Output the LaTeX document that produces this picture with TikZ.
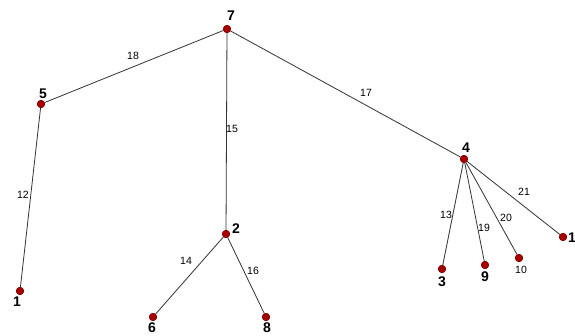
\documentclass[tikz,border=0pt]{standalone}
\usepackage{fontspec}
\setmainfont{Liberation Sans}
\begin{document}
\begin{tikzpicture}[x=1pt,y=-1pt,
  vtx/.style={circle,fill=red!65!black,draw=red!50!black,inner sep=0pt,minimum size=7.5pt},
  edge/.style={draw=black!80,line width=0.8pt},
  nlab/.style={font=\fontsize{14}{14}\selectfont\bfseries,inner sep=1pt},
  elab/.style={font=\fontsize{10.5}{10.5}\selectfont,inner sep=0pt}]
\useasboundingbox (0,0) rectangle (575,336);
\node[vtx] (n7) at (227,29) {};
\node[vtx] (n5) at (41,104) {};
\node[vtx] (n1a) at (20,291) {};
\node[vtx] (n2) at (226,234) {};
\node[vtx] (n6) at (153,317) {};
\node[vtx] (n8) at (266,317) {};
\node[vtx] (n4) at (464,159) {};
\node[vtx] (n3) at (442,269) {};
\node[vtx] (n9) at (485,265) {};
\node[vtx] (n10) at (519,258) {};
\node[vtx] (n1b) at (563,237) {};
\draw[edge] (n7) -- (n5);
\draw[edge] (n7) -- (n2);
\draw[edge] (n7) -- (n4);
\draw[edge] (n5) -- (n1a);
\draw[edge] (n2) -- (n6);
\draw[edge] (n2) -- (n8);
\draw[edge] (n4) -- (n3);
\draw[edge] (n4) -- (n9);
\draw[edge] (n4) -- (n10);
\draw[edge] (n4) -- (n1b);
\foreach \n in {n7,n5,n1a,n2,n6,n8,n4,n3,n9,n10,n1b} \node[vtx] at (\n) {};
\node[nlab] (l7) at (231,16) {7};
\node[nlab] (l5) at (43,94) {5};
\node[nlab] (l1a) at (17,302) {1};
\node[nlab] (l2) at (236,229) {2};
\node[nlab] (l6) at (152,328) {6};
\node[nlab] (l8) at (267,328) {8};
\node[nlab] (l4) at (466,148) {4};
\node[nlab] (l3) at (442,282) {3};
\node[nlab] (l9) at (485,277) {9};
\node[elab] (l10) at (521,270) {10};
\node[nlab] (l1b) at (572,238) {1};
\node[elab] (e18) at (133,56) {18};
\node[elab] (e15) at (232,129) {15};
\node[elab] (e17) at (366,93) {17};
\node[elab] (e12) at (23,195) {12};
\node[elab] (e14) at (186,261) {14};
\node[elab] (e16) at (253,271) {16};
\node[elab] (e13) at (446,215) {13};
\node[elab] (e19) at (484,228) {19};
\node[elab] (e20) at (506,218) {20};
\node[elab] (e21) at (524,192) {21};
\end{tikzpicture}
\end{document}
